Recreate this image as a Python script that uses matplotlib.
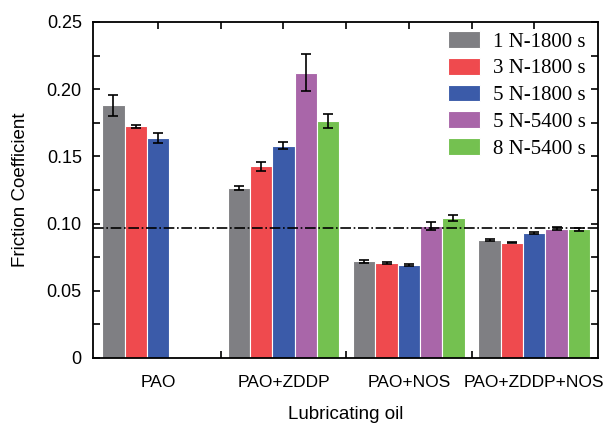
import numpy as np
import matplotlib.pyplot as plt

oils = ["PAO", "PAO+ZDDP", "PAO+NOS", "PAO+ZDDP+NOS"]
conditions = ["1 N-1800 s", "3 N-1800 s", "5 N-1800 s", "5 N-5400 s", "8 N-5400 s"]
colors = ["#7f7f83", "#ef4a4e", "#3b5ba9", "#a966a9", "#74c150"]

# mean friction coefficient per condition, one value per oil (nan = not tested)
f_1n1800 = [0.188, 0.1265, 0.0718, 0.0878]
f_3n1800 = [0.1725, 0.1425, 0.0705, 0.0858]
f_5n1800 = [0.1637, 0.158, 0.069, 0.093]
f_5n5400 = [np.nan, 0.2122, 0.0978, 0.0962]
f_8n5400 = [np.nan, 0.1762, 0.1038, 0.0957]

e_1n1800 = [0.008, 0.0013, 0.0012, 0.0006]
e_3n1800 = [0.0012, 0.0035, 0.0010, 0.0004]
e_5n1800 = [0.004, 0.0028, 0.0006, 0.0005]
e_5n5400 = [np.nan, 0.0138, 0.0030, 0.0012]
e_8n5400 = [np.nan, 0.0053, 0.0022, 0.0010]

ref_level = 0.097

means = [f_1n1800, f_3n1800, f_5n1800, f_5n5400, f_8n5400]
errs = [e_1n1800, e_3n1800, e_5n1800, e_5n5400, e_8n5400]

plt.rcParams["font.family"] = ["Liberation Sans", "DejaVu Sans"]
fig = plt.figure(figsize=(6.03, 4.23), dpi=100)
ax = fig.add_axes([0.154, 0.154, 0.838, 0.794])

x = np.arange(len(oils))
step = 0.178
for k, (m, e) in enumerate(zip(means, errs)):
    pos = x + (k - 2) * step
    ax.bar(pos, m, width=step, color=colors[k], edgecolor="white",
           linewidth=0.8, label=conditions[k], zorder=2)
    ax.errorbar(pos, m, yerr=e, fmt="none", ecolor="black", elinewidth=1.2,
                capsize=3.5, capthick=1.2, zorder=3)

ax.axhline(ref_level, color="black", linestyle="-.", linewidth=1.2, zorder=4)

ax.set_xlim(-0.52, 3.51)
ax.set_ylim(0, 0.25)
ax.set_xticks(x)
ax.set_xticks(x[:-1] + 0.5, minor=True)
ax.set_xticklabels(oils, fontsize=12.5)
ax.set_yticks([0, 0.05, 0.10, 0.15, 0.20, 0.25])
ax.set_yticklabels(["0", "0.05", "0.10", "0.15", "0.20", "0.25"], fontsize=13)
ax.set_yticks(np.arange(0.025, 0.25, 0.05), minor=True)
ax.tick_params(which="both", direction="in", top=True, right=True,
               length=5, width=1.2)
ax.tick_params(axis="x", which="major", pad=12)
ax.tick_params(axis="y", which="major", pad=8)
for s in ax.spines.values():
    s.set_linewidth(1.3)

ax.set_ylabel("Friction Coefficient", fontsize=13.5, labelpad=13)
ax.set_xlabel("Lubricating oil", fontsize=13.5, labelpad=12)

ax.legend(loc="upper right", bbox_to_anchor=(1.0, 1.01), frameon=False,
          prop={"family": "Liberation Serif", "size": 15},
          handlelength=1.55, handleheight=0.85, labelspacing=0.3,
          borderaxespad=0.2, handletextpad=0.6)

fig.savefig("out.png", dpi=100)
